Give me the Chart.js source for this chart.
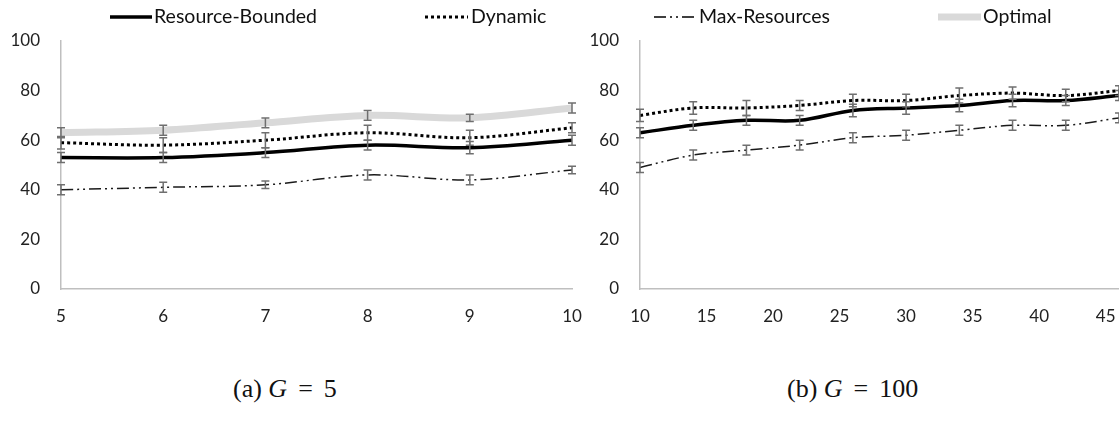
<!DOCTYPE html>
<html>
<head>
<meta charset="utf-8">
<script src="https://cdn.jsdelivr.net/npm/chart.js@4"></script>
<style>
  body { margin: 0; background: #fff; width: 1119px; height: 427px; overflow: hidden; position: relative; font-family: Lato, "Liberation Sans", sans-serif; }
  .box { position: absolute; }
  .leg { position: absolute; top: 4px; font-size: 19.5px; color: #111; white-space: nowrap; line-height: 24px; }
  .cap { position: absolute; top: 374px; font-family: "Liberation Serif", "DejaVu Serif", serif; font-size: 26px; color: #111; white-space: nowrap; }
  .cap .eq { margin: 0 11px; }
</style>
</head>
<body>
<div class="box" style="left:0;top:0;width:586px;height:340px"><canvas id="chartA"></canvas></div>
<div class="box" style="left:580px;top:0;width:539px;height:340px"><canvas id="chartB"></canvas></div>

<!-- skupna legenda nad obema grafoma -->
<svg class="box" style="left:0;top:0" width="1119" height="34">
  <line x1="110" y1="17" x2="152" y2="17" stroke="#000" stroke-width="3.5"/>
  <line x1="425" y1="17" x2="468" y2="17" stroke="#000" stroke-width="3" stroke-dasharray="3,3"/>
  <line x1="654" y1="17" x2="694" y2="17" stroke="#000" stroke-width="1.5" stroke-dasharray="12,4,2,4,2,4"/>
  <line x1="938" y1="17" x2="981" y2="17" stroke="#d9d9d9" stroke-width="7"/>
</svg>
<div class="leg" style="left:154px">Resource-Bounded</div>
<div class="leg" style="left:471px">Dynamic</div>
<div class="leg" style="left:699px">Max-Resources</div>
<div class="leg" style="left:983px">Optimal</div>

<div class="cap" style="left:233px">(a) <i>G</i><span class="eq">=</span>5</div>
<div class="cap" style="left:787px">(b) <i>G</i><span class="eq">=</span>100</div>

<script>
// Podatki za levi graf (G = 5)
const leftX = [5, 6, 7, 8, 9, 10];
const leftRB = [53, 53, 55, 58, 57, 60];
const leftDyn = [59, 58, 60, 63, 61, 65];
const leftMax = [40, 41, 42, 46, 44, 48];
const leftOpt = [63, 64, 67, 70, 69, 73];
const leftRBErr = [2, 2, 2, 2, 2.5, 2];
const leftDynErr = [2.5, 3, 3, 3, 3, 2];
const leftMaxErr = [2, 2, 1.5, 2, 2, 1.5];
const leftOptErr = [2, 2, 2, 2, 1.5, 2];

// Podatki za desni graf (G = 100)
const rightX = [10, 14, 18, 22, 26, 30, 34, 38, 42, 46];
const rightRB = [63, 66, 68, 68, 72, 73, 74, 76, 76, 78];
const rightDyn = [70, 73, 73, 74, 76, 76, 78, 79, 78, 80];
const rightMax = [49, 54, 56, 58, 61, 62, 64, 66, 66, 69];
const rightRBErr = [2, 2, 2, 2, 2.5, 2.5, 2.5, 2.5, 2, 2];
const rightDynErr = [2.5, 2.5, 3, 2, 2.5, 2.5, 3, 2.5, 2.5, 2];
const rightMaxErr = [2, 2, 2, 2, 2, 2, 2, 2, 2, 2];

const yTicks = [0, 20, 40, 60, 80, 100];
const leftTicks = [5, 6, 7, 8, 9, 10];
const rightTicks = [10, 15, 20, 25, 30, 35, 40, 45];

const toPoints = (xs, ys) => xs.map((x, i) => ({ x: x, y: ys[i] }));

// vtičnik za risanje napak (error bars)
const errorBars = {
    id: 'errorBars',
    afterDatasetsDraw(chart) {
        const ctx = chart.ctx;
        const xs = chart.scales.x;
        const ys = chart.scales.y;
        ctx.save();
        ctx.strokeStyle = '#6f6f6f';
        ctx.lineWidth = 1.5;
        chart.data.datasets.forEach(ds => {
            if (!ds.errors) return;
            ds.data.forEach((p, i) => {
                const px = xs.getPixelForValue(p.x);
                const top = ys.getPixelForValue(p.y + ds.errors[i]);
                const bot = ys.getPixelForValue(p.y - ds.errors[i]);
                ctx.beginPath();
                ctx.moveTo(px, top); ctx.lineTo(px, bot);
                ctx.moveTo(px - 4, top); ctx.lineTo(px + 4, top);
                ctx.moveTo(px - 4, bot); ctx.lineTo(px + 4, bot);
                ctx.stroke();
            });
        });
        ctx.restore();
    }
};

function lineSet(label, data, errors, color, width, dash) {
    return {
        label: label,
        data: data,
        errors: errors,
        borderColor: color,
        borderWidth: width,
        borderDash: dash,
        pointRadius: 0,
        fill: false,
        tension: 0.35
    };
}

function makeOptions(xMin, xMax, ticks, yWidth, padRight) {
    return {
        responsive: true,
        maintainAspectRatio: false,
        animation: false,
        layout: { padding: { top: 41, right: padRight, left: 0, bottom: 0 } },
        plugins: { legend: { display: false }, tooltip: { enabled: false } },
        scales: {
            x: {
                type: 'linear',
                min: xMin,
                max: xMax,
                afterBuildTicks: s => { s.ticks = ticks.map(v => ({ value: v })); },
                grid: { display: false, drawTicks: false },
                border: { display: true, color: '#bfbfbf', width: 1.5 },
                ticks: { padding: 17, color: '#222', font: { family: 'Lato', size: 17 } },
                afterFit: s => { s.height = 51; s.paddingRight = 0; s.paddingLeft = 0; }
            },
            y: {
                min: 0,
                max: 100,
                afterBuildTicks: s => { s.ticks = yTicks.map(v => ({ value: v })); },
                grid: { display: false, drawTicks: false },
                border: { display: true, color: '#bfbfbf', width: 1.5 },
                ticks: { padding: 21, color: '#222', font: { family: 'Lato', size: 17 } },
                afterFit: s => { s.width = yWidth; }
            }
        }
    };
}

// Levi graf
new Chart(document.getElementById('chartA').getContext('2d'), {
    type: 'line',
    data: {
        datasets: [
            lineSet('Resource-Bounded', toPoints(leftX, leftRB), leftRBErr, '#000', 3.5, []),
            lineSet('Dynamic', toPoints(leftX, leftDyn), leftDynErr, '#000', 3, [3, 3]),
            lineSet('Max-Resources', toPoints(leftX, leftMax), leftMaxErr, '#1a1a1a', 1.5, [12, 4, 2, 4, 2, 4]),
            lineSet('Optimal', toPoints(leftX, leftOpt), leftOptErr, '#d9d9d9', 7, [])
        ]
    },
    options: makeOptions(5, 10, leftTicks, 61, 14),
    plugins: [errorBars]
});

// Desni graf
new Chart(document.getElementById('chartB').getContext('2d'), {
    type: 'line',
    data: {
        datasets: [
            lineSet('Resource-Bounded', toPoints(rightX, rightRB), rightRBErr, '#000', 3.5, []),
            lineSet('Dynamic', toPoints(rightX, rightDyn), rightDynErr, '#000', 3, [3, 3]),
            lineSet('Max-Resources', toPoints(rightX, rightMax), rightMaxErr, '#1a1a1a', 1.5, [12, 4, 2, 4, 2, 4])
        ]
    },
    options: makeOptions(10, 46, rightTicks, 60, 0),
    plugins: [errorBars]
});
</script>
</body>
</html>
